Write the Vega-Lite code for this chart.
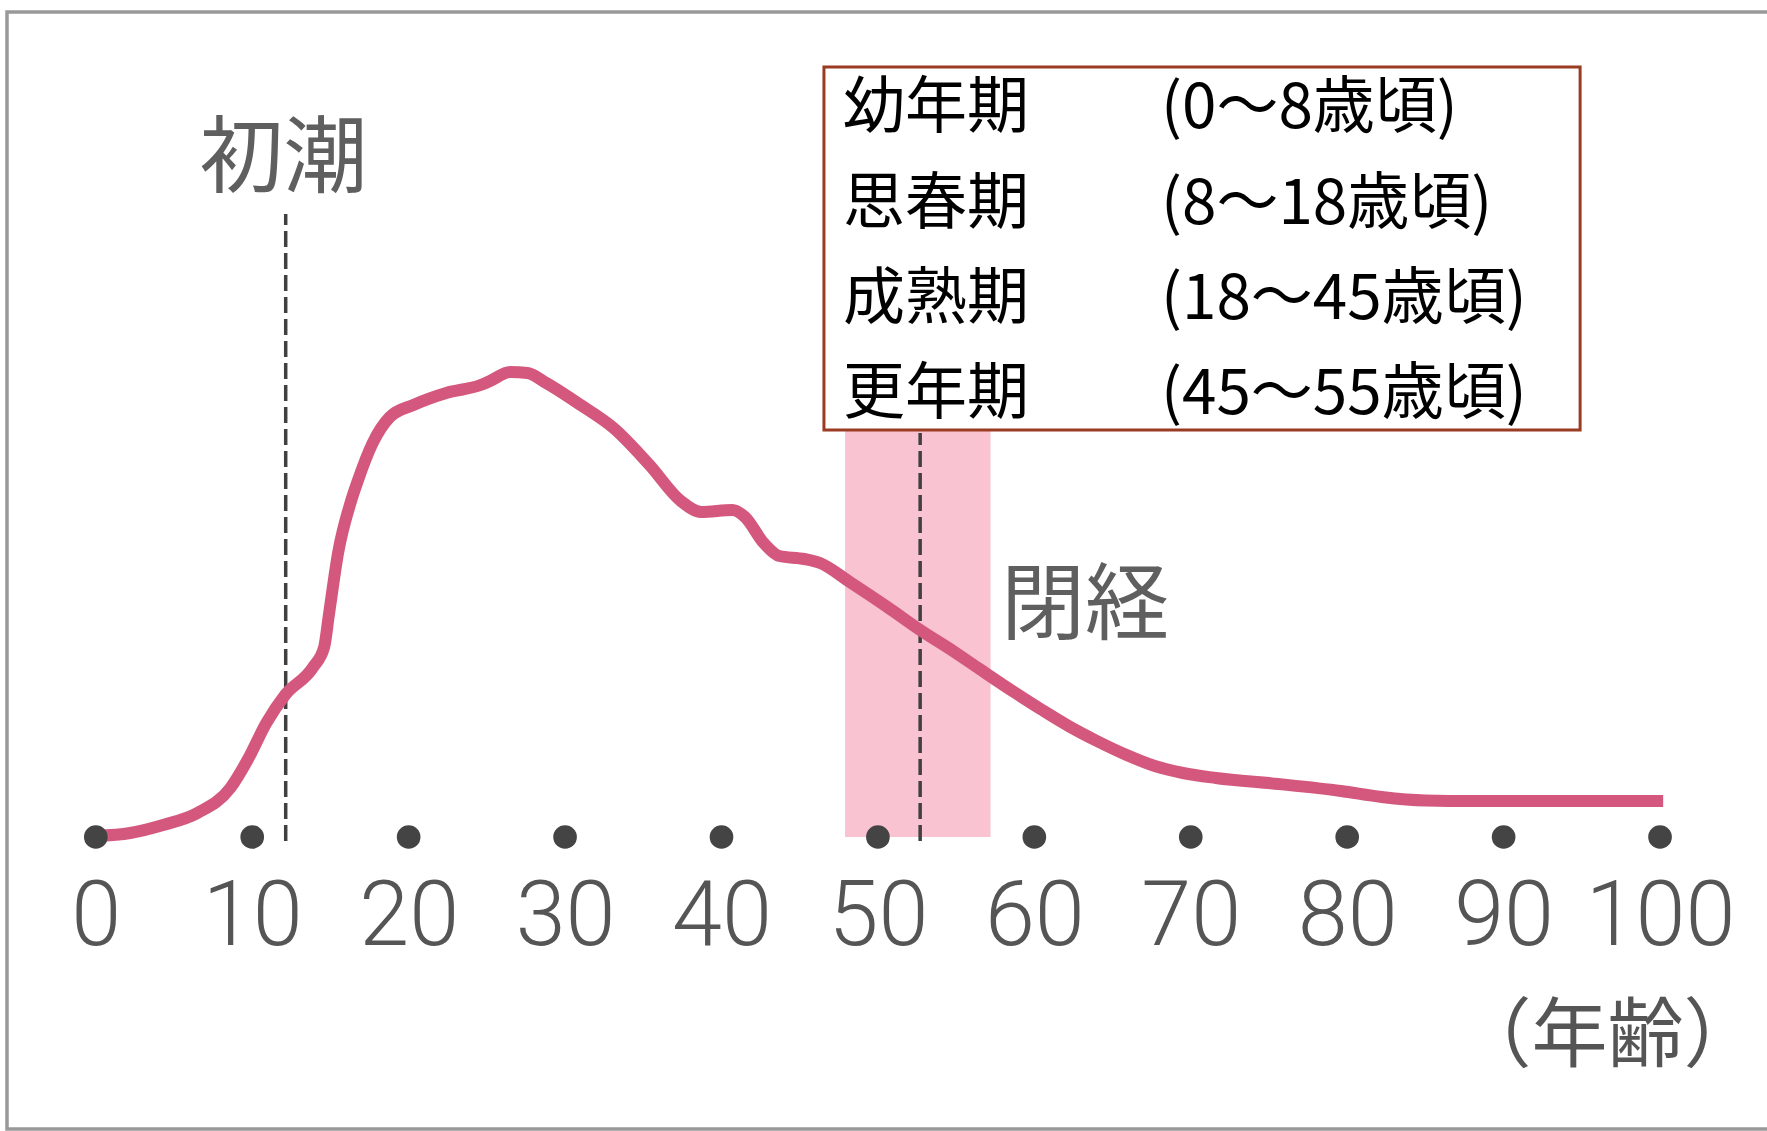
{
  "$schema": "https://vega.github.io/schema/vega-lite/v6.json",
  "width": 1763,
  "height": 1117,
  "autosize": {"type": "none"},
  "padding": {"left": 7, "top": 12, "right": -3, "bottom": 2},
  "background": "white",
  "view": {"stroke": "#999999", "strokeWidth": 3.5},
  "config": {"font": "Noto Sans CJK JP"},
  "datasets": {
    "curve": [
      {"age": 0, "level": 1}, {"age": 2.2, "level": 4}, {"age": 4.3, "level": 12}, {"age": 6.5, "level": 24},
      {"age": 8.6, "level": 49}, {"age": 9.7, "level": 77}, {"age": 10.9, "level": 114}, {"age": 12.1, "level": 142},
      {"age": 13.9, "level": 170}, {"age": 14.6, "level": 190}, {"age": 14.9, "level": 222}, {"age": 15.5, "level": 285},
      {"age": 16.3, "level": 335}, {"age": 16.7, "level": 354}, {"age": 17.7, "level": 394}, {"age": 18.8, "level": 420},
      {"age": 20.3, "level": 432}, {"age": 22.4, "level": 444}, {"age": 24.6, "level": 452}, {"age": 25.2, "level": 456},
      {"age": 26.5, "level": 465}, {"age": 27.6, "level": 464}, {"age": 28.8, "level": 454}, {"age": 31.0, "level": 432},
      {"age": 33.1, "level": 409}, {"age": 35.4, "level": 372}, {"age": 37.4, "level": 336}, {"age": 38.7, "level": 325},
      {"age": 40.7, "level": 327}, {"age": 41.5, "level": 320}, {"age": 42.7, "level": 294}, {"age": 43.7, "level": 281},
      {"age": 45.3, "level": 278}, {"age": 46.3, "level": 274}, {"age": 48.2, "level": 255}, {"age": 50.6, "level": 230},
      {"age": 52.7, "level": 207}, {"age": 54.8, "level": 186}, {"age": 56.5, "level": 168}, {"age": 58.7, "level": 145},
      {"age": 60.5, "level": 127}, {"age": 62.3, "level": 110}, {"age": 64.0, "level": 96}, {"age": 65.9, "level": 82},
      {"age": 67.7, "level": 71}, {"age": 69.5, "level": 64}, {"age": 71.6, "level": 59}, {"age": 75.6, "level": 53},
      {"age": 79.6, "level": 46}, {"age": 82.2, "level": 40}, {"age": 85.0, "level": 36.5}, {"age": 88.0, "level": 36},
      {"age": 93.0, "level": 36}, {"age": 100.2, "level": 36}
    ],
    "dots": [
      {"age": 0, "level": 0}, {"age": 10, "level": 0}, {"age": 20, "level": 0}, {"age": 30, "level": 0},
      {"age": 40, "level": 0}, {"age": 50, "level": 0}, {"age": 60, "level": 0}, {"age": 70, "level": 0},
      {"age": 80, "level": 0}, {"age": 90, "level": 0}, {"age": 100, "level": 0}
    ],
    "band": [{"phase": "更年期", "age": 47.9, "age2": 57.2, "level": 0, "level2": 407}],
    "markers": [
      {"event": "初潮", "age": 12.14, "level": -4, "level2": 623},
      {"event": "閉経", "age": 52.7, "level": -4, "level2": 404}
    ],
    "labels": [
      {"text": "初潮", "age": 12.0, "level": 676},
      {"text": "閉経", "age": 63.24, "level": 229}
    ],
    "box": [{"age": 46.55, "age2": 94.89, "level": 407, "level2": 770}],
    "legend": [
      {"text": "幼年期", "age": 47.77, "level": 728},
      {"text": "(0～8歳頃)", "age": 68.1, "level": 728},
      {"text": "思春期", "age": 47.77, "level": 632},
      {"text": "(8～18歳頃)", "age": 68.1, "level": 632},
      {"text": "成熟期", "age": 47.77, "level": 537},
      {"text": "(18～45歳頃)", "age": 68.1, "level": 537},
      {"text": "更年期", "age": 47.77, "level": 442},
      {"text": "(45～55歳頃)", "age": 68.1, "level": 442}
    ]
  },
  "encoding": {
    "x": {
      "field": "age",
      "type": "quantitative",
      "scale": {"domain": [-5.677, 107.03], "nice": false, "zero": false},
      "axis": {
        "title": "（年齢）",
        "values": [0, 10, 20, 30, 40, 50, 60, 70, 80, 90, 100],
        "format": "d",
        "grid": false,
        "domain": false,
        "ticks": false,
        "tickSize": 0,
        "offset": -212,
        "labelPadding": 0,
        "labelBaseline": "middle",
        "labelFont": "Roboto",
        "labelFontWeight": 300,
        "labelFontSize": 90,
        "labelColor": "#555555",
        "labelFlush": false,
        "labelOverlap": false,
        "labelBound": false,
        "titleFont": "Noto Sans CJK JP",
        "titleFontSize": 76,
        "titleFontWeight": "normal",
        "titleColor": "#555555",
        "titleAlign": "right",
        "titleBaseline": "middle",
        "titleX": 1752,
        "titleY": 120
      }
    },
    "y": {
      "field": "level",
      "type": "quantitative",
      "scale": {"domain": [-292, 825], "nice": false, "zero": false},
      "axis": null
    }
  },
  "layer": [
    {
      "data": {"name": "band"},
      "mark": {"type": "rect", "color": "#f9c3d1"},
      "encoding": {"x2": {"field": "age2"}, "y2": {"field": "level2"}}
    },
    {
      "data": {"name": "markers"},
      "mark": {"type": "rule", "color": "#404040", "strokeWidth": 3.5, "strokeDash": [16, 6]},
      "encoding": {"y2": {"field": "level2"}}
    },
    {
      "data": {"name": "curve"},
      "mark": {"type": "line", "color": "#d4587d", "strokeWidth": 12, "interpolate": "monotone", "strokeCap": "butt"},
      "encoding": {}
    },
    {
      "data": {"name": "dots"},
      "mark": {"type": "circle", "color": "#444444", "opacity": 1, "size": 560},
      "encoding": {}
    },
    {
      "data": {"name": "labels"},
      "mark": {"type": "text", "font": "Noto Sans CJK JP", "fontSize": 84, "color": "#5f5f5f", "align": "center", "baseline": "middle"},
      "encoding": {"text": {"field": "text"}}
    },
    {
      "data": {"name": "box"},
      "mark": {"type": "rect", "fill": "white", "stroke": "#9b3b22", "strokeWidth": 3},
      "encoding": {"x2": {"field": "age2"}, "y2": {"field": "level2"}}
    },
    {
      "data": {"name": "legend"},
      "mark": {"type": "text", "font": "Noto Sans CJK JP", "fontSize": 62, "color": "#000000", "align": "left", "baseline": "middle"},
      "encoding": {"text": {"field": "text"}}
    }
  ]
}
